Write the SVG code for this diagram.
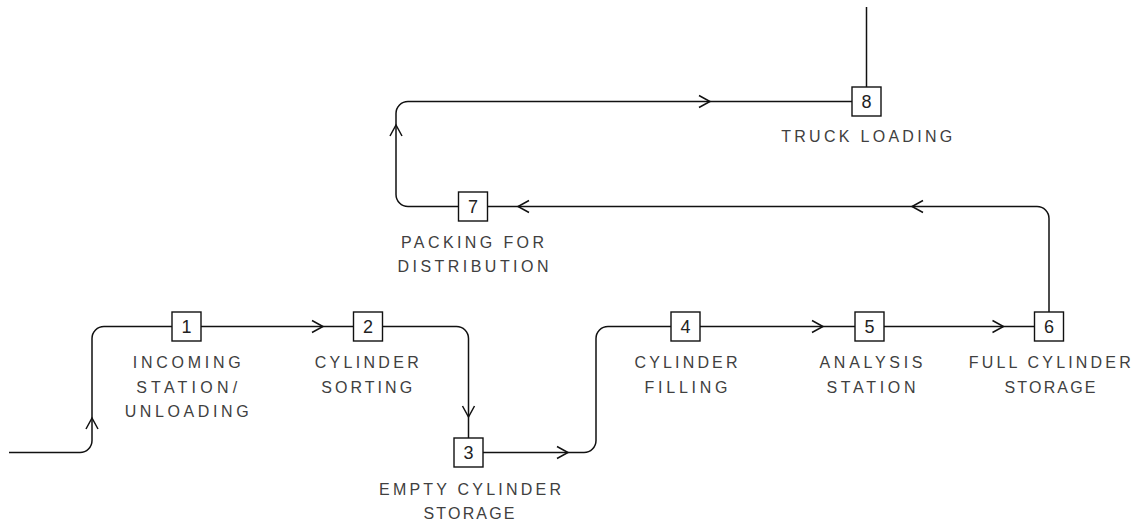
<svg xmlns="http://www.w3.org/2000/svg" width="1139" height="526" viewBox="0 0 1139 526">
<style>
.ln{fill:none;stroke:#111;stroke-width:1.5}
.bx{fill:#fff;stroke:#111;stroke-width:1.4}
.num{font-family:"Liberation Sans",Arial,sans-serif;font-size:18px;fill:#222;text-anchor:middle}
.lbl{font-family:"Liberation Sans",Arial,sans-serif;font-size:16px;fill:#404040;text-anchor:middle}
</style>
<defs>
<path id="chev" d="M-11,-6 L0,0 L-11,6" fill="none" stroke="#111" stroke-width="1.5"/>
</defs>
<rect width="1139" height="526" fill="#fff"/>
<g id="connectors">
<path class="ln" d="M9,452.5 H80 A12,12 0 0 0 92,440.5 V338.5 A12,12 0 0 1 104,326.5 H172"/>
<path class="ln" d="M201,326.5 H353.5"/>
<path class="ln" d="M382.5,326.5 H456.5 A12,12 0 0 1 468.5,338.5 V438"/>
<path class="ln" d="M483,452.5 H584 A12,12 0 0 0 596,440.5 V338.5 A12,12 0 0 1 608,326.5 H671"/>
<path class="ln" d="M700,326.5 H855"/>
<path class="ln" d="M884,326.5 H1034.5"/>
<path class="ln" d="M1049,312 V218.5 A12,12 0 0 0 1037,206.5 H487.5"/>
<path class="ln" d="M458.5,206.5 H408 A12,12 0 0 1 396,194.5 V113.5 A12,12 0 0 1 408,101.5 H852"/>
<path class="ln" d="M866.5,7 V87"/>
<use href="#chev" transform="translate(92,418) rotate(-90)"/>
<use href="#chev" transform="translate(323,326.5)"/>
<use href="#chev" transform="translate(468.5,417) rotate(90)"/>
<use href="#chev" transform="translate(568,452.5)"/>
<use href="#chev" transform="translate(823,326.5)"/>
<use href="#chev" transform="translate(1003.5,326.5)"/>
<use href="#chev" transform="translate(912,206.5) rotate(180)"/>
<use href="#chev" transform="translate(518,206.5) rotate(180)"/>
<use href="#chev" transform="translate(396,125) rotate(-90)"/>
<use href="#chev" transform="translate(710,101.5)"/>
</g>
<g id="node1">
<rect class="bx" x="172" y="312" width="29" height="29"/>
<text class="num" x="186.5" y="333">1</text>
<text class="lbl" x="186.7" y="368" textLength="108" lengthAdjust="spacing">INCOMING</text>
<text class="lbl" x="186.7" y="392.5" textLength="101" lengthAdjust="spacing">STATION/</text>
<text class="lbl" x="186.7" y="417" textLength="124" lengthAdjust="spacing">UNLOADING</text>
</g>
<g id="node2">
<rect class="bx" x="353.5" y="312" width="29" height="29"/>
<text class="num" x="368" y="333">2</text>
<text class="lbl" x="366.7" y="368" textLength="104" lengthAdjust="spacing">CYLINDER</text>
<text class="lbl" x="366.7" y="392.5" textLength="91" lengthAdjust="spacing">SORTING</text>
</g>
<g id="node3">
<rect class="bx" x="454" y="438" width="29" height="29"/>
<text class="num" x="468.5" y="459">3</text>
<text class="lbl" x="470" y="495" textLength="182" lengthAdjust="spacing">EMPTY CYLINDER</text>
<text class="lbl" x="469" y="519" textLength="91" lengthAdjust="spacing">STORAGE</text>
</g>
<g id="node4">
<rect class="bx" x="671" y="312" width="29" height="29"/>
<text class="num" x="685.5" y="333">4</text>
<text class="lbl" x="686" y="368" textLength="103" lengthAdjust="spacing">CYLINDER</text>
<text class="lbl" x="686" y="392.5" textLength="83" lengthAdjust="spacing">FILLING</text>
</g>
<g id="node5">
<rect class="bx" x="855" y="312" width="29" height="29"/>
<text class="num" x="869.5" y="333">5</text>
<text class="lbl" x="871" y="368" textLength="103" lengthAdjust="spacing">ANALYSIS</text>
<text class="lbl" x="871" y="392.5" textLength="89" lengthAdjust="spacing">STATION</text>
</g>
<g id="node6">
<rect class="bx" x="1034.5" y="312" width="29" height="29"/>
<text class="num" x="1049" y="333">6</text>
<text class="lbl" x="1049.7" y="368" textLength="162" lengthAdjust="spacing">FULL CYLINDER</text>
<text class="lbl" x="1050" y="392.5" textLength="91" lengthAdjust="spacing">STORAGE</text>
</g>
<g id="node7">
<rect class="bx" x="458.5" y="192" width="29" height="29"/>
<text class="num" x="473" y="213">7</text>
<text class="lbl" x="472.5" y="248" textLength="143" lengthAdjust="spacing">PACKING FOR</text>
<text class="lbl" x="473" y="272" textLength="151" lengthAdjust="spacing">DISTRIBUTION</text>
</g>
<g id="node8">
<rect class="bx" x="852" y="87" width="29" height="29"/>
<text class="num" x="866.5" y="108">8</text>
<text class="lbl" x="866.7" y="141.5" textLength="171" lengthAdjust="spacing">TRUCK LOADING</text>
</g>
</svg>
